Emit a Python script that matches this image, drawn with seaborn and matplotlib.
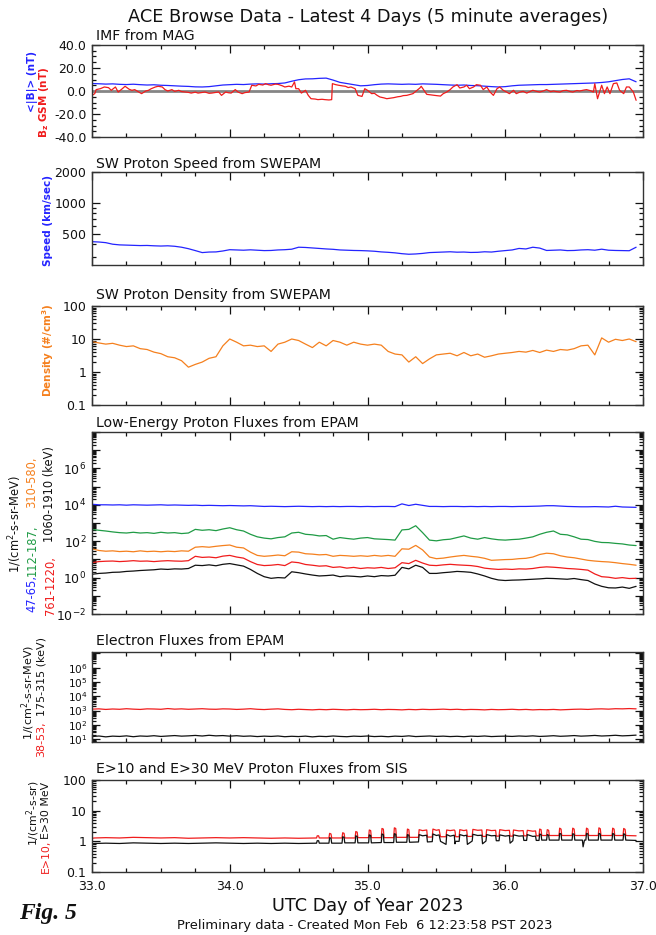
import numpy as np
import pandas as pd
import matplotlib
matplotlib.use("Agg")
import matplotlib.pyplot as plt
import matplotlib.ticker as mticker
import seaborn as sns

sns.set_style("ticks")
plt.rcParams["font.family"] = ["DejaVu Sans"]
plt.rcParams["mathtext.fontset"] = "dejavusans"
plt.rcParams["axes.unicode_minus"] = False

# ------------------------------------------------------------------ data
GRID_START, GRID_STEP = 33.0, 0.05   # reading points every 0.05 day

# IMF |B| (nT)
imf_bt = [6.5, 6.3, 6.0, 6.2, 5.8, 5.6, 5.9, 5.5, 5.2, 5.4, 5.0, 4.8, 4.5, 4.2, 4.0, 3.6, 3.5, 3.8, 4.5, 5.2,
          5.5, 5.8, 5.6, 6.0, 6.2, 6.0, 6.3, 6.5, 7.0, 8.5, 9.8, 10.5, 10.6, 11.0, 11.2, 9.5, 7.5, 6.5, 5.5, 4.5,
          4.8, 5.5, 6.0, 6.2, 6.0, 5.8, 6.0, 5.8, 6.2, 6.0, 5.8, 5.5, 5.2, 5.0, 5.2, 4.8, 4.6, 4.2, 3.8, 3.5,
          3.8, 4.5, 5.0, 5.2, 5.4, 5.6, 5.6, 5.8, 6.0, 6.2, 6.4, 6.6, 6.8, 7.0, 7.4, 8.0, 9.0, 10.0, 10.6, 8.0]

# IMF Bz GSM (day, nT)
imf_bz = [(33.00, -3.8), (33.02, -2.3), (33.03, 1.2), (33.06, 2.0), (33.09, 3.5), (33.12, 2.9), (33.14, 0.6),
          (33.17, 3.5), (33.19, -0.9), (33.22, 2.0), (33.24, 4.1), (33.27, 1.5), (33.29, 0.6), (33.31, 1.2),
          (33.34, -0.9), (33.36, -2.3), (33.39, 0.0), (33.41, 0.6), (33.43, 2.0), (33.46, 3.5), (33.48, 4.1),
          (33.51, 3.5), (33.53, 1.2), (33.55, 0.0), (33.58, 1.2), (33.60, -0.3), (33.63, 0.6), (33.65, -0.5),
          (33.68, -0.9), (33.70, -1.2), (33.72, -1.8), (33.75, -1.0), (33.77, -1.8), (33.80, -1.3), (33.82, -0.9),
          (33.85, -2.0), (33.87, -1.8), (33.90, -1.2), (33.92, -0.9), (33.94, -3.8), (33.97, -0.9), (33.99, -1.5),
          (34.01, -1.8), (34.04, 1.2), (34.06, -0.9), (34.09, -2.3), (34.11, -1.4), (34.14, -0.9), (34.16, 5.0),
          (34.19, 4.4), (34.21, 5.8), (34.24, 5.2), (34.26, 6.4), (34.28, 5.5), (34.30, 5.0), (34.33, 6.0),
          (34.35, 5.8), (34.38, 4.6), (34.40, 3.5), (34.43, 4.2), (34.45, 3.5), (34.47, 7.9), (34.48, 2.0),
          (34.50, 2.0), (34.52, -1.8), (34.55, 0.6), (34.57, -3.8), (34.59, -6.7), (34.62, -7.0), (34.64, -7.5),
          (34.67, -7.2), (34.69, -7.5), (34.72, -7.8), (34.74, -7.5), (34.745, 6.4), (34.77, 5.5), (34.79, 5.0),
          (34.82, 4.4), (34.84, 4.1), (34.86, 3.0), (34.88, 3.5), (34.91, 2.0), (34.93, -3.8), (34.96, -4.7),
          (34.98, 2.0), (35.00, 0.6), (35.03, -2.3), (35.05, -2.0), (35.07, -3.8), (35.09, -5.2), (35.12, -6.0),
          (35.14, -6.7), (35.17, -6.2), (35.19, -5.8), (35.22, -5.0), (35.24, -4.7), (35.26, -4.0), (35.285, -3.8),
          (35.31, -3.0), (35.33, -2.3), (35.36, 0.6), (35.38, 2.6), (35.39, 4.1), (35.41, 0.6), (35.43, -2.9),
          (35.46, -3.4), (35.48, -3.8), (35.50, -4.0), (35.53, -4.4), (35.55, -2.3), (35.575, -0.9), (35.60, 1.2),
          (35.62, 3.5), (35.65, 5.5), (35.67, 2.6), (35.70, 3.5), (35.72, 5.0), (35.74, 2.0), (35.77, 3.5),
          (35.79, 5.5), (35.82, 5.0), (35.84, 1.2), (35.866, 3.5), (35.89, -0.9), (35.914, -3.8), (35.94, 2.0),
          (35.96, 3.5), (35.985, 0.6), (36.01, -0.9), (36.03, -2.3), (36.06, 0.6), (36.08, -2.3), (36.107, -0.9),
          (36.13, -0.3), (36.156, -1.8), (36.18, -0.5), (36.20, 0.6), (36.23, -0.4), (36.25, -0.9), (36.28, 0.2),
          (36.30, 1.2), (36.33, -0.6), (36.35, 0.0), (36.37, -0.5), (36.397, -0.9), (36.42, 0.3), (36.445, 0.6),
          (36.47, -0.4), (36.49, -0.9), (36.52, 0.4), (36.54, 0.0), (36.57, 0.8), (36.59, 1.2), (36.62, 0.2),
          (36.64, -0.9), (36.65, 6.4), (36.67, -6.7), (36.70, 5.0), (36.72, -2.3), (36.74, 3.5), (36.76, -2.3),
          (36.785, 6.4), (36.81, 7.0), (36.83, 0.6), (36.86, -2.3), (36.88, 3.5), (36.90, 3.5), (36.93, -0.9),
          (36.95, -8.1)]

# SW proton speed (km/s)
sw_speed = [421, 418, 412, 398, 392, 390, 388, 386, 387, 384, 382, 384, 380, 372, 360, 345, 330, 334, 335, 342,
            352, 350, 348, 351, 348, 345, 346, 350, 352, 356, 372, 370, 366, 362, 358, 355, 350, 348, 346, 345,
            343, 340, 335, 332, 328, 322, 318, 320, 324, 330, 332, 334, 336, 333, 334, 331, 332, 336, 334, 340,
            345, 350, 362, 358, 372, 365, 346, 348, 350, 345, 346, 350, 352, 348, 356, 348, 346, 345, 344, 372]

# SW proton density (#/cm^3)
sw_density = [8.3, 7.6, 7.0, 7.4, 6.5, 5.9, 6.2, 5.1,
              4.8, 4.0, 3.6, 2.9, 2.7, 2.2, 1.4, 1.7, 2.0, 2.6, 2.9, 6.2, 10.0,
              8.0, 6.2, 6.5, 5.9, 6.2, 4.2, 7.0, 8.0, 10.0,
              9.0, 7.0, 5.5, 8.0, 6.2, 9.0, 8.0, 6.5, 8.0, 7.0,
              6.5, 7.0, 6.5, 4.2, 3.5, 3.3, 2.0, 2.9, 1.8, 2.5,
              3.3, 3.5, 3.7, 3.1, 3.9, 3.1, 3.5, 2.8, 3.1, 3.5,
              3.7, 3.9, 4.2, 4.0, 4.5, 3.9, 4.6, 4.2, 4.8, 4.6,
              5.1, 6.2, 6.5, 3.3, 10.8, 8.0, 9.8, 9.0, 10.0, 8.3]

# EPAM low-energy proton fluxes, log10 of 1/(cm2-s-sr-MeV)
p47_65_log = [4.03, 4.00, 4.00, 3.99, 4.00, 3.98, 4.00, 3.99, 3.98, 3.99, 4.00, 3.98, 3.99, 3.98, 3.97, 3.98,
              3.96, 3.97, 3.96, 3.95, 3.96, 3.95, 3.94, 3.95, 3.93,
              3.91, 3.92, 3.91, 3.90, 3.91, 3.92, 3.91, 3.90, 3.91, 3.90,
              3.91, 3.90, 3.91, 3.91, 3.90, 3.91, 3.90, 3.91, 3.91, 3.90,
              4.05, 3.96, 4.03, 3.97, 3.91,
              3.91, 3.90, 3.91, 3.91, 3.90, 3.91, 3.90, 3.91, 3.90, 3.91,
              3.91, 3.90, 3.91, 3.91, 3.92, 3.93, 3.95, 3.95,
              3.93, 3.91, 3.90, 3.89, 3.89, 3.90, 3.89, 3.88, 3.92, 3.88, 3.87, 3.86]
p112_187_log = [2.65, 2.60, 2.56, 2.51, 2.47, 2.45, 2.49, 2.45, 2.47, 2.43, 2.49, 2.45, 2.47, 2.42, 2.45,
                2.65, 2.60, 2.63, 2.58, 2.67, 2.74, 2.63, 2.56, 2.38, 2.24, 2.17, 2.13, 2.20, 2.24, 2.45,
                2.49, 2.38, 2.35, 2.29, 2.31,
                2.11, 2.20, 2.15, 2.11, 2.17, 2.20, 2.13, 2.11, 2.09, 2.06,
                2.62, 2.65, 2.85, 2.47, 2.06,
                2.02, 2.08, 2.11, 2.20, 2.29, 2.17, 2.11, 2.20, 2.13, 2.08,
                2.06, 2.09, 2.11, 2.17, 2.24, 2.38, 2.49, 2.56, 2.38, 2.35,
                2.24, 2.11, 2.09, 1.99, 1.93, 1.92, 1.88, 1.85, 1.79, 1.76]
p310_580_log = [1.58, 1.49, 1.45, 1.47, 1.43, 1.45, 1.42, 1.47, 1.43, 1.45, 1.42, 1.45, 1.43, 1.47, 1.45,
                1.67, 1.70, 1.67, 1.72, 1.76, 1.79, 1.67, 1.63, 1.40, 1.22, 1.17, 1.20, 1.24, 1.20, 1.42,
                1.40, 1.31, 1.29, 1.25, 1.27,
                1.17, 1.22, 1.20, 1.17, 1.20, 1.17, 1.22, 1.18, 1.22, 1.17,
                1.58, 1.56, 1.77, 1.52, 1.13,
                1.04, 1.07, 1.13, 1.18, 1.22, 1.17, 1.13, 1.06, 0.95, 0.97,
                0.99, 1.00, 1.04, 1.06, 1.13, 1.27, 1.34, 1.31, 1.20, 1.13,
                1.09, 1.02, 0.95, 0.91, 0.88, 0.86, 0.82, 0.77, 0.73, 0.68]
p761_1220_log = [0.82, 0.88, 0.90, 0.91, 0.88, 0.90, 0.93, 0.90, 0.91, 0.88, 0.91, 0.93, 0.91, 0.90, 0.93,
                 1.17, 1.11, 1.13, 1.09, 1.18, 1.22, 1.13, 1.07, 0.88, 0.72, 0.66, 0.68, 0.72, 0.66, 0.86,
                 0.82, 0.72, 0.68, 0.63, 0.65,
                 0.56, 0.59, 0.52, 0.56, 0.50, 0.54, 0.52, 0.56, 0.50, 0.54,
                 0.82, 0.77, 0.95, 0.80, 0.68,
                 0.66, 0.70, 0.73, 0.70, 0.68, 0.66, 0.61, 0.52, 0.48, 0.45,
                 0.47, 0.45, 0.48, 0.47, 0.50, 0.56, 0.59, 0.57, 0.54, 0.50,
                 0.48, 0.45, 0.41, 0.20, 0.05, 0.02, -0.04, 0.00, -0.05, -0.04]
p1060_1910_log = [0.18, 0.23, 0.25, 0.29, 0.30, 0.34, 0.36, 0.39, 0.41, 0.43, 0.47, 0.45, 0.48, 0.47, 0.50,
                  0.68, 0.66, 0.70, 0.65, 0.73, 0.77, 0.70, 0.63, 0.45, 0.23, 0.05, -0.04, 0.00, -0.02, 0.32,
                  0.27, 0.20, 0.14, 0.09, 0.11,
                  0.14, 0.05, 0.09, 0.07, 0.04, 0.09, 0.05, 0.11, 0.09, 0.13,
                  0.56, 0.48, 0.68, 0.56, 0.23,
                  0.23, 0.27, 0.30, 0.34, 0.32, 0.29, 0.20, 0.09, -0.04, -0.13,
                  -0.16, -0.14, -0.13, -0.11, -0.09, -0.07, -0.04, -0.05, -0.07, -0.09,
                  -0.05, -0.11, -0.16, -0.35, -0.48, -0.56, -0.57, -0.52, -0.59, -0.48]

# EPAM electron fluxes, log10
e38_53_log = [3.10, 3.12, 3.08, 3.11, 3.09, 3.13, 3.10, 3.08, 3.12, 3.11, 3.09, 3.14, 3.10, 3.12, 3.09, 3.11,
              3.13, 3.10, 3.09, 3.12, 3.11, 3.08, 3.10, 3.13, 3.09, 3.07, 3.10, 3.12, 3.08, 3.06, 3.09, 3.07,
              3.05, 3.08, 3.06, 3.09, 3.07, 3.05, 3.08, 3.06, 3.07, 3.09, 3.06, 3.08, 3.07, 3.05, 3.08, 3.06,
              3.09, 3.07, 3.08, 3.10, 3.07, 3.09, 3.06, 3.08, 3.07, 3.05, 3.08, 3.06, 3.07, 3.09, 3.06, 3.08,
              3.05, 3.07, 3.06, 3.08, 3.05, 3.07, 3.09, 3.10, 3.08, 3.11, 3.12, 3.10, 3.13, 3.12, 3.14, 3.12]
e175_315_log = [1.18, 1.22, 1.16, 1.21, 1.19, 1.23, 1.17, 1.22, 1.20, 1.24, 1.19, 1.22, 1.25, 1.21, 1.23, 1.26,
                1.22, 1.27, 1.23, 1.25, 1.21, 1.24, 1.20, 1.22, 1.18, 1.21, 1.19, 1.22, 1.17, 1.20, 1.18, 1.21,
                1.16, 1.20, 1.18, 1.22, 1.19, 1.17, 1.21, 1.19, 1.22, 1.18, 1.20, 1.17, 1.21, 1.19, 1.23, 1.18,
                1.20, 1.22, 1.19, 1.21, 1.18, 1.20, 1.17, 1.21, 1.19, 1.22, 1.18, 1.20, 1.21, 1.19, 1.22, 1.20,
                1.23, 1.19, 1.21, 1.24, 1.20, 1.22, 1.25, 1.21, 1.23, 1.26, 1.22, 1.24, 1.27, 1.23, 1.25, 1.28]

# SIS proton fluxes: (day, log10 E>10, log10 E>30)
sis_rows = [(33.00, 0.10, -0.12), (33.02, 0.11, -0.07), (33.10, 0.12, -0.06), (33.20, 0.11, -0.07),
            (33.30, 0.13, -0.05), (33.40, 0.12, -0.06), (33.50, 0.11, -0.07), (33.60, 0.12, -0.06),
            (33.70, 0.10, -0.07), (33.80, 0.11, -0.06), (33.90, 0.12, -0.05), (34.00, 0.11, -0.06),
            (34.10, 0.12, -0.07), (34.20, 0.11, -0.06), (34.30, 0.10, -0.07), (34.40, 0.11, -0.06),
            (34.50, 0.10, -0.07), (34.63, 0.11, -0.06), (34.635, 0.18, 0.02), (34.645, 0.18, 0.02),
            (34.65, 0.11, -0.06), (34.72, 0.11, -0.06), (34.725, 0.26, 0.12), (34.735, 0.24, 0.10),
            (34.74, 0.11, -0.06), (34.815, 0.11, -0.06), (34.82, 0.28, 0.15), (34.83, 0.26, 0.13),
            (34.835, 0.11, -0.05), (34.91, 0.11, -0.05), (34.915, 0.32, 0.18), (34.925, 0.30, 0.16),
            (34.93, 0.12, -0.05), (35.008, 0.12, -0.05), (35.013, 0.37, 0.21), (35.023, 0.35, 0.19),
            (35.028, 0.12, -0.05), (35.10, 0.12, -0.04), (35.105, 0.42, 0.24), (35.115, 0.40, 0.22),
            (35.12, 0.12, -0.04), (35.19, 0.12, -0.04), (35.195, 0.44, 0.25), (35.205, 0.42, 0.23),
            (35.21, 0.13, -0.03), (35.285, 0.13, -0.03), (35.29, 0.40, 0.22), (35.30, 0.38, 0.20),
            (35.305, 0.13, -0.03), (35.37, 0.13, -0.02), (35.375, 0.38, 0.22), (35.40, 0.35, 0.18),
            (35.43, 0.37, 0.20), (35.435, 0.14, -0.02), (35.47, 0.14, -0.01), (35.475, 0.40, 0.24),
            (35.50, 0.36, 0.19), (35.52, 0.38, 0.21), (35.53, 0.15, 0.00), (35.57, 0.15, -0.10),
            (35.575, 0.37, 0.22), (35.60, 0.35, 0.17), (35.63, 0.37, 0.20), (35.635, 0.34, -0.08),
            (35.64, 0.15, 0.00), (35.665, 0.15, 0.00), (35.67, 0.38, 0.22), (35.70, 0.35, 0.18),
            (35.72, 0.37, 0.20), (35.725, 0.16, -0.10), (35.76, 0.16, 0.01), (35.765, 0.39, 0.23),
            (35.80, 0.36, 0.19), (35.83, 0.37, 0.20), (35.835, 0.16, -0.08), (35.86, 0.16, 0.01),
            (35.865, 0.38, 0.22), (35.90, 0.35, 0.18), (35.93, 0.36, 0.19), (35.935, 0.17, 0.02),
            (35.955, 0.17, 0.02), (35.96, 0.38, 0.21), (36.00, 0.35, 0.17), (36.03, 0.36, 0.19),
            (36.035, 0.17, -0.06), (36.055, 0.17, 0.02), (36.06, 0.37, 0.21), (36.10, 0.34, 0.17),
            (36.13, 0.35, 0.18), (36.135, 0.18, 0.03), (36.155, 0.18, 0.03), (36.16, 0.36, 0.22),
            (36.20, 0.33, 0.16), (36.22, 0.34, 0.17), (36.225, 0.18, 0.03), (36.245, 0.18, 0.03),
            (36.25, 0.40, 0.24), (36.26, 0.38, 0.22), (36.265, 0.19, 0.04), (36.30, 0.19, 0.04),
            (36.305, 0.38, 0.22), (36.315, 0.36, 0.20), (36.32, 0.19, 0.04), (36.39, 0.19, 0.04),
            (36.395, 0.43, 0.26), (36.405, 0.40, 0.24), (36.41, 0.19, 0.04), (36.485, 0.19, 0.04),
            (36.49, 0.43, 0.25), (36.50, 0.40, 0.23), (36.505, 0.19, 0.04), (36.56, 0.19, 0.04),
            (36.565, 0.19, -0.18), (36.575, 0.19, 0.04), (36.585, 0.19, 0.04), (36.59, 0.43, 0.26),
            (36.60, 0.40, 0.24), (36.605, 0.19, 0.04), (36.675, 0.19, 0.04), (36.68, 0.44, 0.26),
            (36.69, 0.41, 0.24), (36.695, 0.19, 0.04), (36.775, 0.19, 0.04), (36.78, 0.43, 0.26),
            (36.79, 0.40, 0.23), (36.795, 0.19, 0.04), (36.855, 0.19, 0.04), (36.86, 0.42, 0.25),
            (36.87, 0.39, 0.22), (36.875, 0.19, 0.04), (36.95, 0.18, 0.03)]

x_ticks = [33.0, 34.0, 35.0, 36.0, 37.0]

# colours
BLUE, RED, ORANGE, GREEN, BLACK = "#2424ff", "#f01c1c", "#f5801e", "#1f9b45", "#111111"


def grid(vals):
    return GRID_START + GRID_STEP * np.arange(len(vals))


# ------------------------------------------------------------------ figure
W, H = 656, 935
fig = plt.figure(figsize=(W / 100, H / 100), dpi=100)
fig.patch.set_facecolor("white")
L, R = 92, 643
panels = [(45, 137), (172, 265), (306, 405), (432, 614), (652, 742), (780, 872)]
axes = [fig.add_axes([L / W, 1 - b / H, (R - L) / W, (b - t) / H]) for t, b in panels]


def line(ax, x, y, color, lw=0.9):
    df = pd.DataFrame({"day": np.asarray(x, float), "v": np.asarray(y, float)})
    sns.lineplot(data=df, x="day", y="v", ax=ax, color=color, lw=lw,
                 estimator=None, sort=False, legend=False)


def style(ax, bottom=False):
    ax.set_xlim(33, 37)
    ax.set_xticks(x_ticks)
    ax.xaxis.set_minor_locator(mticker.MultipleLocator(0.25))
    ax.xaxis.set_major_formatter(mticker.FormatStrFormatter("%.1f"))
    ax.tick_params(which="both", direction="in", top=True, right=True, width=0.9,
                   labelsize=9, colors="#111111", pad=4)
    ax.tick_params(which="major", length=6)
    ax.tick_params(which="minor", length=3)
    ax.tick_params(axis="x", labelbottom=bottom, pad=6)
    for s in ax.spines.values():
        s.set_linewidth(1.0)
        s.set_color("#333333")
    ax.set_xlabel("")
    ax.set_ylabel("")
    ax.grid(False)
    ax.set_facecolor("white")


def log_minor(ax):
    ax.yaxis.set_minor_locator(mticker.LogLocator(base=10, subs=np.arange(2, 10), numticks=100))
    ax.yaxis.set_minor_formatter(mticker.NullFormatter())


def pow_fmt(allowed):
    def f(v, p):
        e = int(round(np.log10(v)))
        return r"$10^{%d}$" % e if e in allowed else ""
    return mticker.FuncFormatter(f)


# Panel 1: IMF
ax = axes[0]
ax.axhline(0, color="#858585", lw=2.0, zorder=1)
line(ax, grid(imf_bt), imf_bt, BLUE)
bz_d, bz_v = zip(*imf_bz)
line(ax, bz_d, bz_v, RED)
style(ax)
ax.set_ylim(-40, 40)
ax.yaxis.set_major_locator(mticker.MultipleLocator(20))
ax.yaxis.set_minor_locator(mticker.MultipleLocator(5))
ax.yaxis.set_major_formatter(mticker.FormatStrFormatter("%.1f"))

# Panel 2: speed
ax = axes[1]
line(ax, grid(sw_speed), sw_speed, BLUE)
style(ax)
ax.set_yscale("log")
ax.set_ylim(250, 2000)
ax.yaxis.set_major_locator(mticker.FixedLocator([500, 1000, 2000]))
ax.yaxis.set_major_formatter(mticker.FixedFormatter(["500", "1000", "2000"]))
log_minor(ax)

# Panel 3: density
ax = axes[2]
line(ax, grid(sw_density), sw_density, ORANGE)
style(ax)
ax.set_yscale("log")
ax.set_ylim(0.1, 100)
ax.yaxis.set_major_locator(mticker.FixedLocator([0.1, 1, 10, 100]))
ax.yaxis.set_major_formatter(mticker.FixedFormatter(["0.1", "1", "10", "100"]))
log_minor(ax)

# Panel 4: low energy protons
ax = axes[3]
for vals, c in [(p47_65_log, BLUE), (p112_187_log, GREEN), (p310_580_log, ORANGE),
                (p761_1220_log, RED), (p1060_1910_log, BLACK)]:
    line(ax, grid(vals), 10 ** np.asarray(vals), c)
style(ax)
ax.set_yscale("log")
ax.set_ylim(1e-2, 1e8)
ax.yaxis.set_major_locator(mticker.FixedLocator([10.0 ** k for k in range(-2, 9)]))
ax.yaxis.set_major_formatter(pow_fmt({-2, 0, 2, 4, 6}))
log_minor(ax)

# Panel 5: electrons
ax = axes[4]
line(ax, grid(e38_53_log), 10 ** np.asarray(e38_53_log), RED)
line(ax, grid(e175_315_log), 10 ** np.asarray(e175_315_log), BLACK)
style(ax)
ax.set_yscale("log")
ax.set_ylim(10 ** 0.8, 10 ** 7.1)
ax.yaxis.set_major_locator(mticker.FixedLocator([10.0 ** k for k in range(1, 8)]))
ax.yaxis.set_major_formatter(pow_fmt({1, 2, 3, 4, 5, 6}))
ax.tick_params(axis="y", labelsize=7.6, pad=3)
log_minor(ax)

# Panel 6: SIS
ax = axes[5]
sis_d, sis_e10, sis_e30 = zip(*sis_rows)
line(ax, sis_d, 10 ** np.asarray(sis_e10), RED)
line(ax, sis_d, 10 ** np.asarray(sis_e30), BLACK)
style(ax, bottom=True)
ax.set_yscale("log")
ax.set_ylim(0.1, 100)
ax.yaxis.set_major_locator(mticker.FixedLocator([0.1, 1, 10, 100]))
ax.yaxis.set_major_formatter(mticker.FixedFormatter(["0.1", "1", "10", "100"]))
log_minor(ax)

# ------------------------------------------------------------------ texts
def ftext(xp, yp, s, **kw):
    fig.text(xp / W, 1 - yp / H, s, **kw)


ftext(368, 17, "ACE Browse Data - Latest 4 Days (5 minute averages)", ha="center", va="center",
      fontsize=12.8, color="#111111")
panel_titles = ["IMF from MAG", "SW Proton Speed from SWEPAM", "SW Proton Density from SWEPAM",
                "Low-Energy Proton Fluxes from EPAM", "Electron Fluxes from EPAM",
                "E>10 and E>30 MeV Proton Fluxes from SIS"]
title_y = [36, 164, 295, 423, 641, 769]
for s, y in zip(panel_titles, title_y):
    ftext(96, y, s, ha="left", va="center", fontsize=10.2, color="#111111")


def vtext(xp, yp, s, color, size=7.5, weight="normal"):
    ftext(xp, yp, s, rotation=90, ha="center", va="center", fontsize=size, color=color, fontweight=weight)


vtext(33, 82, "<|B|> (nT)", BLUE, 7.5, "bold")
vtext(44, 102, "B$_\\mathbf{z}$ GSM (nT)", RED, 7.5, "bold")
vtext(48, 220, "Speed (km/sec)", BLUE, 7.5, "bold")
vtext(48, 350, "Density (#/cm$^\\mathbf{3}$)", ORANGE, 7.5, "bold")

vtext(15, 524, "1/(cm$^2$-s-sr-MeV)", BLACK, 8.3)
vtext(32, 594, "47-65,", BLUE, 8.3)
vtext(32, 550, "112-187,", GREEN, 8.3)
vtext(32, 482, "310-580,", ORANGE, 8.3)
vtext(50, 586, "761-1220,", RED, 8.3)
vtext(50, 494, "1060-1910 (keV)", BLACK, 8.3)

vtext(28, 692, "1/(cm$^2$-s-sr-MeV)", BLACK, 8)
vtext(41, 739, "38-53,", RED, 8)
vtext(41, 676, "175-315 (keV)", BLACK, 8)

vtext(33, 813, "1/(cm$^2$-s-sr)", BLACK, 7.8)
vtext(46, 856, "E>10,", RED, 7.8)
vtext(46, 810, "E>30 MeV", BLACK, 7.8)

ftext(368, 906, "UTC Day of Year 2023", ha="center", va="center", fontsize=12.7, color="#111111")
ftext(365, 926, "Preliminary data - Created Mon Feb  6 12:23:58 PST 2023", ha="center", va="center",
      fontsize=9.4, color="#111111")
ftext(19, 913, "Fig. 5", ha="left", va="center", fontsize=17, fontweight="bold", fontstyle="italic",
      family=["Liberation Serif", "DejaVu Serif"], color="#111111")

fig.savefig("out.png", dpi=100, facecolor="white")
